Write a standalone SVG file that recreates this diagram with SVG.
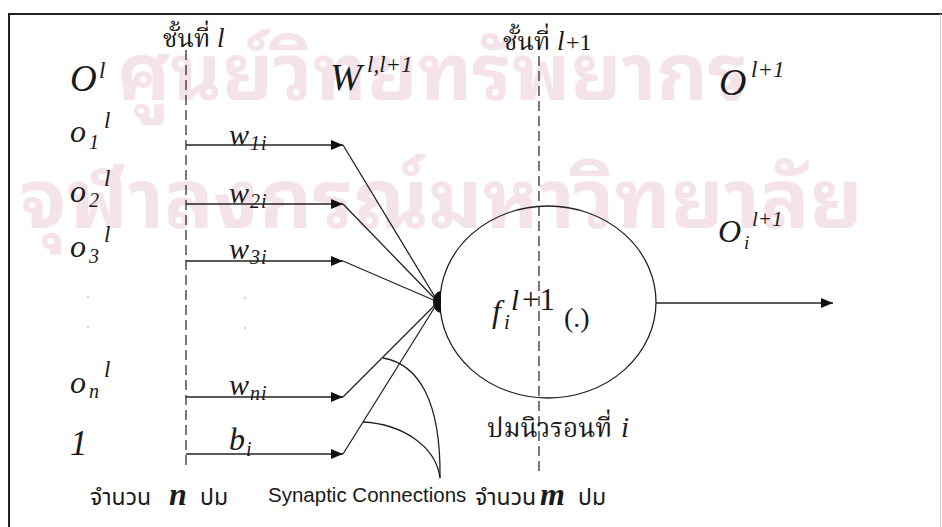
<svg xmlns="http://www.w3.org/2000/svg" width="942" height="527" viewBox="0 0 942 527">
<style>
.mi{font-family:"Liberation Serif","Times New Roman",serif;font-style:italic;fill:#1a1a1a}
.mr{font-family:"Liberation Serif","Times New Roman",serif;fill:#1a1a1a}
.th{font-family:"Noto Serif Thai","Noto Sans Thai","Liberation Serif","Noto Sans",serif;fill:#1a1a1a}
.ths{font-family:"Noto Sans Thai","Liberation Sans","Noto Sans",sans-serif;fill:#1a1a1a}
.sans{font-family:"Liberation Sans",Arial,sans-serif;fill:#1a1a1a}
.wm{font-family:"Noto Sans Thai Looped","Noto Sans Thai","Noto Sans","Liberation Sans",sans-serif;font-weight:700;fill:#f5e3ea}
.ln{stroke:#222;stroke-width:1.3;fill:none}
.dash{stroke:#222;stroke-width:1.2;stroke-dasharray:10 5;fill:none}
</style>
<defs>
<marker id="ah" viewBox="0 0 12 10" refX="12" refY="5" markerWidth="12" markerHeight="10" markerUnits="userSpaceOnUse" orient="auto">
<path d="M0,0 L12,5 L0,10 z" fill="#111"/>
</marker>
</defs>
<rect x="0" y="0" width="942" height="527" fill="#ffffff"/>
<g id="watermark">
<text class="wm" x="117" y="100" font-size="79">ศูนย์วิทยทรัพยากร</text>
<text class="wm" x="20" y="228" font-size="82">จุฬาลงกรณ์มหาวิทยาลัย</text>
</g>
<g id="frame">
<line x1="8" y1="14" x2="942" y2="14" stroke="#222" stroke-width="2"/>
<line x1="9" y1="13" x2="9" y2="527" stroke="#222" stroke-width="2"/>
<line x1="940.5" y1="14" x2="940.5" y2="527" stroke="#ccc" stroke-width="1"/>
</g>
<g id="layers">
<line class="dash" x1="186" y1="50" x2="186" y2="468"/>
<line class="dash" x1="539" y1="56" x2="539" y2="472"/>
<text class="th" x="163" y="47" font-size="25">ชั้นที่</text><text class="mi" x="217" y="47" font-size="27">l</text>
<text class="th" x="503" y="50" font-size="25">ชั้นที่</text><text class="mi" x="557" y="50" font-size="27">l</text><text class="mr" x="566" y="50" font-size="24">+1</text>
</g>
<g id="inputs">
<text class="mi" x="70" y="91" font-size="37">O</text><text class="mi" x="99" y="78" font-size="23">l</text>
<text class="mi" x="70" y="142" font-size="32">o</text><text class="mi" x="89" y="149" font-size="20">1</text><text class="mi" x="104" y="128" font-size="23">l</text>
<text class="mi" x="70" y="202" font-size="32">o</text><text class="mi" x="89" y="207" font-size="20">2</text><text class="mi" x="104" y="186" font-size="23">l</text>
<text class="mi" x="70" y="257" font-size="32">o</text><text class="mi" x="89" y="263" font-size="20">3</text><text class="mi" x="104" y="242" font-size="23">l</text>
<circle cx="88" cy="297" r="0.8" fill="#999"/><circle cx="88" cy="327" r="0.8" fill="#999"/>
<circle cx="245" cy="298" r="0.8" fill="#999"/><circle cx="245" cy="328" r="0.8" fill="#999"/>
<text class="mi" x="70" y="393" font-size="32">o</text><text class="mi" x="89" y="398" font-size="20">n</text><text class="mi" x="104" y="377" font-size="23">l</text>
<text class="mi" x="70" y="455" font-size="35">1</text>
</g>
<g id="weights">
<text class="mi" x="330" y="90" font-size="38">W</text><text class="mi" x="367" y="72" font-size="23">l,l+1</text>
<text class="mi" x="229" y="145" font-size="30">w</text><text class="mi" x="250" y="150" font-size="20" letter-spacing="1">1i</text>
<text class="mi" x="229" y="203" font-size="30">w</text><text class="mi" x="250" y="208" font-size="20" letter-spacing="1">2i</text>
<text class="mi" x="229" y="259" font-size="30">w</text><text class="mi" x="250" y="264" font-size="20" letter-spacing="1">3i</text>
<text class="mi" x="229" y="395" font-size="30">w</text><text class="mi" x="250" y="400" font-size="20" letter-spacing="1">ni</text>
<text class="mi" x="229" y="450" font-size="32">b</text><text class="mi" x="246" y="456" font-size="20">i</text>
</g>
<g id="connectors">
<line class="ln" x1="186" y1="145" x2="343" y2="145" marker-end="url(#ah)"/>
<line class="ln" x1="186" y1="204" x2="343" y2="204" marker-end="url(#ah)"/>
<line class="ln" x1="186" y1="261" x2="343" y2="261" marker-end="url(#ah)"/>
<line class="ln" x1="186" y1="397" x2="343" y2="397" marker-end="url(#ah)"/>
<line class="ln" x1="186" y1="454" x2="343" y2="454" marker-end="url(#ah)"/>
<line class="ln" x1="343" y1="145" x2="438" y2="302"/>
<line class="ln" x1="343" y1="204" x2="438" y2="302"/>
<line class="ln" x1="343" y1="261" x2="438" y2="302"/>
<line class="ln" x1="343" y1="397" x2="438" y2="302"/>
<line class="ln" x1="343" y1="454" x2="438" y2="302"/>
<path class="ln" d="M383,358 C418,364 441,400 440,478"/>
<path class="ln" d="M363,422 C402,424 436,446 440,478"/>
<line class="ln" x1="656" y1="303" x2="833" y2="303" marker-end="url(#ah)"/>
</g>
<g id="neuron">
<ellipse cx="548" cy="302" rx="108" ry="96" fill="none" stroke="#222" stroke-width="1.3"/>
<path d="M441,291 A8,11 0 0 0 441,313 Z" fill="#111"/>
<text class="mi" x="492" y="322" font-size="32">f</text><text class="mi" x="504" y="329" font-size="21">i</text>
<text class="mi" x="511" y="310" font-size="29">l</text><text class="mr" x="522" y="310" font-size="31">+1</text>
<text class="mr" x="564" y="327" font-size="28">(.)</text>
<text class="th" x="487" y="437" font-size="26">ปมนิวรอนที่</text><text class="mi" x="621" y="437" font-size="29">i</text>
</g>
<g id="outputs">
<text class="mi" x="719" y="95" font-size="38">O</text><text class="mi" x="751" y="77" font-size="23">l+1</text>
<text class="mi" x="718" y="242" font-size="32">O</text><text class="mi" x="744" y="249" font-size="19">i</text><text class="mi" x="752" y="226" font-size="21">l+1</text>
</g>
<g id="bottom-labels">
<text class="ths" x="90" y="505" font-size="23">จำนวน</text><text class="mi" x="169" y="505" font-size="32" font-weight="bold">n</text><text class="ths" x="200" y="505" font-size="23">ปม</text>
<text class="sans" x="268" y="502" font-size="20.5">Synaptic Connections</text>
<text class="ths" x="475" y="505" font-size="23">จำนวน</text><text class="mi" x="540" y="505" font-size="32" font-weight="bold">m</text><text class="ths" x="578" y="505" font-size="23">ปม</text>
</g>
</svg>
